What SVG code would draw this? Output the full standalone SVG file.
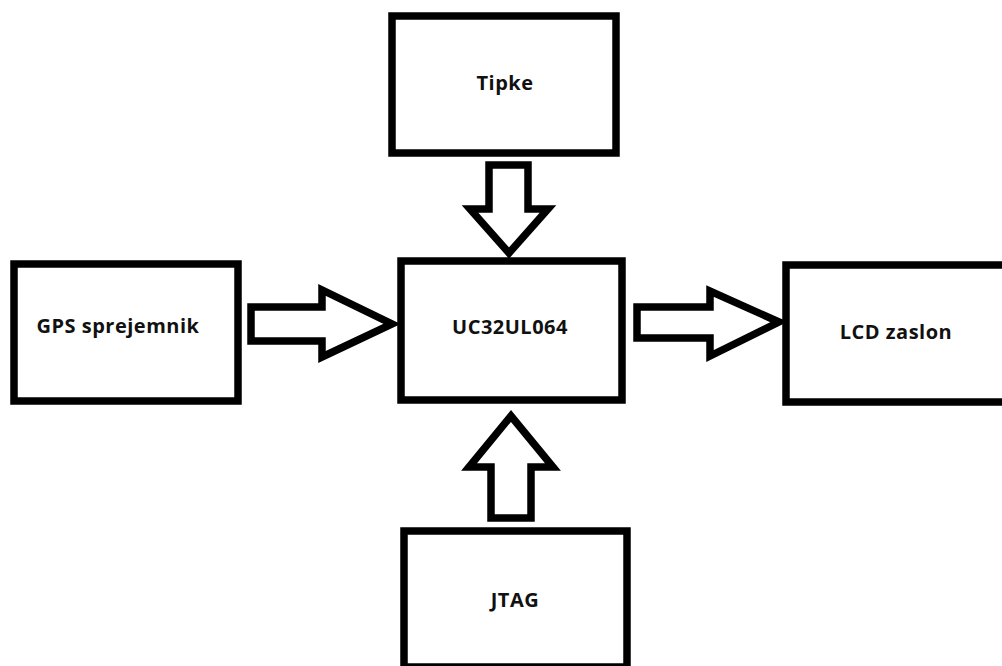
<svg xmlns="http://www.w3.org/2000/svg" width="1002" height="666" viewBox="0 0 1002 666">
<style>
.box{fill:#fff;stroke:#000;stroke-width:7.5}
.arr{fill:#fff;stroke:#000;stroke-width:7.5;stroke-linejoin:miter}
.lbl{font-family:"Open Sans","DejaVu Sans",sans-serif;font-weight:bold;font-size:20px;letter-spacing:0.5px;fill:#111;text-anchor:middle}
</style>
<rect width="1002" height="666" fill="#fff"/>
<g id="tipke">
<rect class="box" x="392" y="16" width="224" height="137"/>
<text class="lbl" x="505" y="90">Tipke</text>
</g>
<g id="uc">
<rect class="box" x="401" y="261" width="221" height="139"/>
<text class="lbl" x="510" y="334">UC32UL064</text>
</g>
<g id="gps">
<rect class="box" x="14" y="264" width="224" height="137"/>
<text class="lbl" x="118" y="333">GPS sprejemnik</text>
</g>
<g id="lcd">
<rect class="box" x="786" y="265" width="230" height="137"/>
<text class="lbl" x="896" y="339">LCD zaslon</text>
</g>
<g id="jtag">
<rect class="box" x="404" y="531" width="223" height="136"/>
<text class="lbl" x="515" y="607">JTAG</text>
</g>
<g id="connectors">
<path class="arr" d="M489,165 L528,165 L528,209 L548,209 L509,253 L470,209 L489,209 Z"/>
<path class="arr" d="M251,307 L322,307 L322,290 L392,324 L322,357 L322,341 L251,341 Z"/>
<path class="arr" d="M637,307 L710,307 L710,291 L779,322 L710,356 L710,338 L637,338 Z"/>
<path class="arr" d="M491,518 L531,518 L531,467 L553,467 L511,416 L469,467 L491,467 Z"/>
</g>
</svg>
